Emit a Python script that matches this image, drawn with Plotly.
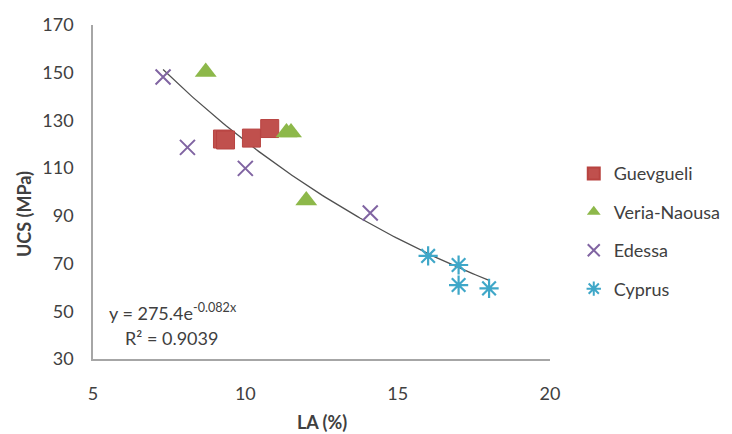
import numpy as np
import plotly.graph_objects as go

# ---- data ----
guev_x = [9.25, 9.35, 10.2, 10.8]
guev_y = [122.2, 121.8, 122.6, 126.6]

veria_x = [8.7, 11.35, 11.5, 12.0]
veria_y = [150.3, 124.9, 124.9, 96.4]

edessa_x = [7.3, 8.1, 10.0, 14.1]
edessa_y = [148.2, 118.7, 109.9, 91.2]

cyprus_x = [16.0, 17.0, 17.0, 18.0]
cyprus_y = [73.2, 69.4, 61.0, 59.6]

# trendline y = a * exp(b x) as printed on the chart
fit_a = 275.4
fit_b = -0.082
fit_xmin, fit_xmax = 7.3, 18.0

x_ticks = [5, 10, 15, 20]
y_ticks = [30, 50, 70, 90, 110, 130, 150, 170]

FONT = "Lato"
TXT = "#404040"

fx = np.linspace(fit_xmin, fit_xmax, 120)
fy = fit_a * np.exp(fit_b * fx)

fig = go.Figure()
fig.add_trace(go.Scatter(x=fx, y=fy, mode="lines", showlegend=False,
                         line=dict(color="#505050", width=1.3), hoverinfo="skip"))
fig.add_trace(go.Scatter(x=guev_x, y=guev_y, mode="markers", name="Guevgueli",
                         legendgroup="a",
                         marker=dict(symbol="square", size=18, color="#C0504D",
                                     line=dict(color="#B84340", width=1))))
fig.add_trace(go.Scatter(x=veria_x, y=veria_y, mode="markers", name="Veria-Naousa",
                         legendgroup="b",
                         marker=dict(symbol="triangle-up", size=19, color="#8DB84A")))
fig.add_trace(go.Scatter(x=edessa_x, y=edessa_y, mode="markers", name="Edessa",
                         legendgroup="c",
                         marker=dict(symbol="x-thin-open", size=15, color="#8064A2",
                                     line=dict(color="#8064A2", width=2))))
fig.add_trace(go.Scatter(x=cyprus_x, y=cyprus_y, mode="markers", name="Cyprus",
                         legendgroup="d",
                         marker=dict(symbol="asterisk-open", size=16, color="#3FA7C8",
                                     line=dict(color="#3FA7C8", width=2.2))))

axis_common = dict(showgrid=False, zeroline=False, showline=True, automargin=False,
                   linecolor="#A6A6A6", linewidth=1.5, ticks="",
                   tickfont=dict(family=FONT, size=18, color=TXT))

fig.update_xaxes(range=[5, 20], tickvals=x_ticks, ticklabelstandoff=18, **axis_common)
fig.update_yaxes(range=[30, 170], tickvals=y_ticks, ticklabelstandoff=14, **axis_common)

def anno(text, x, y, xanchor="center", angle=0):
    return dict(text=text, x=x, y=y, xref="paper", yref="paper",
                xanchor=xanchor, yanchor="middle", textangle=angle,
                showarrow=False, font=dict(family=FONT, size=18, color=TXT))

annos = [
    anno("<b>LA (%)</b>", 0.501, -0.19),
    anno("<b>UCS (MPa)</b>", -0.151, 0.434, angle=-90),
    anno("y = 275.4e<sup>-0.082x</sup>", 0.031, 0.141, xanchor="left"),
    anno("R² = 0.9039", 0.066, 0.063, xanchor="left"),
]

fig.update_layout(
    width=732, height=434,
    margin=dict(l=93, r=182, t=25, b=75, autoexpand=False),
    paper_bgcolor="white", plot_bgcolor="white",
    annotations=annos,
    legend=dict(x=1.052, y=0.61, xanchor="left", yanchor="top",
                traceorder="grouped", tracegroupgap=12, itemsizing="constant",
                font=dict(family=FONT, size=18, color=TXT),
                bgcolor="rgba(0,0,0,0)"),
    showlegend=True,
)

fig.write_html("out.html", config={"displayModeBar": False},
               post_script="document.body.style.margin='0';document.body.style.overflow='hidden';")
